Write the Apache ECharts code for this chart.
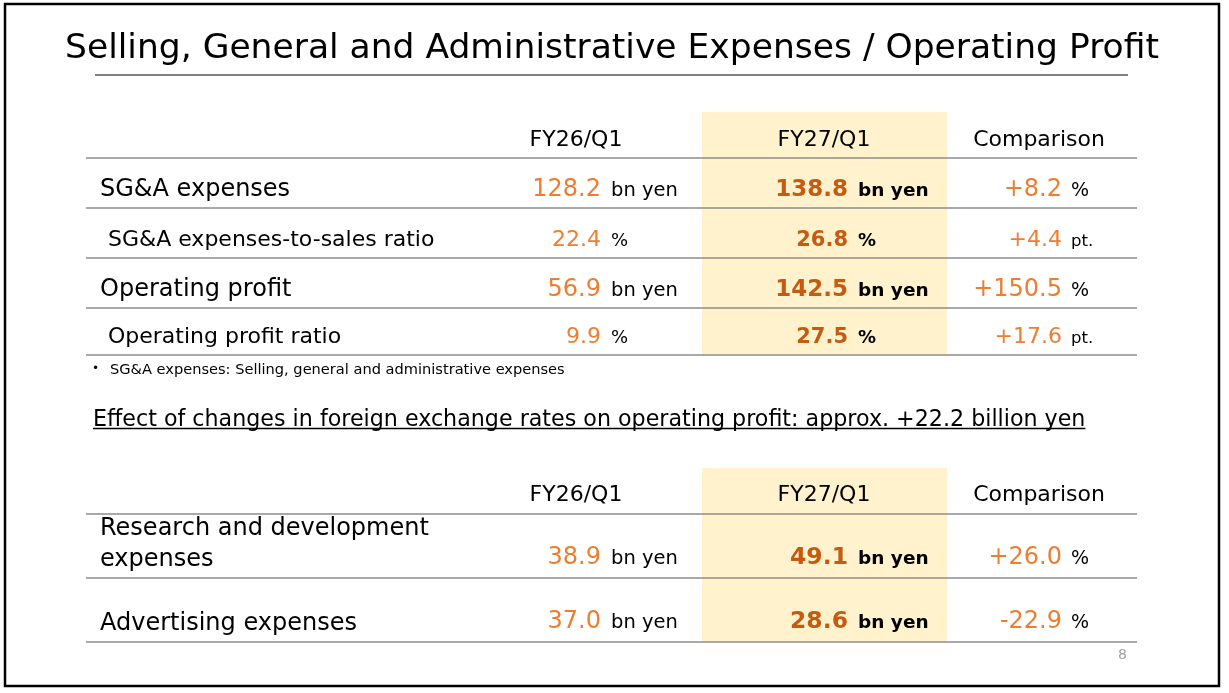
<!DOCTYPE html>
<html>
<head>
<meta charset="utf-8">
<script src="https://cdn.jsdelivr.net/npm/echarts@6/dist/echarts.min.js"></script>
<style>
html, body { margin: 0; padding: 0; background: #fff; }
#main { width: 1229px; height: 693px; }
</style>
</head>
<body>
<div id="main"></div>
<script>
// ---- data ----
var columns = ['FY26/Q1', 'FY27/Q1', 'Comparison'];

// SG&A expenses / operating profit
var opItems = ['SG&A expenses', 'SG&A expenses-to-sales ratio', 'Operating profit', 'Operating profit ratio'];
var opIsSub = [false, true, false, true];
var opFY26 = [128.2, 22.4, 56.9, 9.9];
var opFY27 = [138.8, 26.8, 142.5, 27.5];
var opChange = [8.2, 4.4, 150.5, 17.6];
var opUnits = ['bn yen', '%', 'bn yen', '%'];
var opChangeUnits = ['%', 'pt.', '%', 'pt.'];

// R&D and advertising
var expItems = ['Research and development\nexpenses', 'Advertising expenses'];
var expFY26 = [38.9, 37.0];
var expFY27 = [49.1, 28.6];
var expChange = [26.0, -22.9];
var expUnits = ['bn yen', 'bn yen'];
var expChangeUnits = ['%', '%'];

var titleText = 'Selling, General and Administrative Expenses / Operating Profit';
var footnote = 'SG&A expenses: Selling, general and administrative expenses';
var fxNote = 'Effect of changes in foreign exchange rates on operating profit: approx. +22.2 billion yen';
var pageNo = '8';

// ---- layout / style ----
var FONT = '"DejaVu Sans", sans-serif';
var ORANGE = '#ED7D31';
var DARK_ORANGE = '#C55A11';
var HILITE = '#FFF2CC';
var RULE = '#8C8C8C';
var colHeadX = [576, 824, 1039];
var numRightX = [601, 848, 1062];
var unitGap = [10, 10, 9];
var tableLeft = 86, tableRight = 1137;
var hiLeft = 702, hiRight = 947;
var tables = [
  { top: 112, headBase: 147, headLine: 158, bottoms: [208, 258, 308, 355] },
  { top: 468, headBase: 502, headLine: 514, bottoms: [578, 642] }
];
// font sizes: [main row, sub row]
var SZ = {
  label: [24, 22],
  num: [24, 22], unit: [19.5, 18],
  bold: [23, 21], boldUnit: [18.5, 18],
  chg: [24, 22], chgUnit: [19, 16.5]
};
var K = 0.30; // baseline -> middle offset (fraction of font size)

function fmt(v) { return v.toFixed(1); }
function fmtChange(v) { return (v > 0 ? '+' : '') + v.toFixed(1); }

function txt(api, x, base, s, size, color, align, bold) {
  var p = api.coord([x, base - K * size]);
  return {
    type: 'text', x: p[0], y: p[1],
    style: {
      text: s, fill: color || '#000',
      fontSize: size, fontFamily: FONT, fontWeight: bold ? 'bold' : 'normal',
      align: align || 'left', verticalAlign: 'middle'
    }
  };
}
function hline(api, x1, x2, y, color, w) {
  var a = api.coord([x1, y]), b = api.coord([x2, y]);
  return { type: 'line', shape: { x1: a[0], y1: a[1], x2: b[0], y2: b[1] }, style: { stroke: color, lineWidth: w } };
}
function cell(api, children, col, base, value, unit, sz, usz, numColor, bold) {
  children.push(txt(api, numRightX[col], base, value, sz, numColor, 'right', bold));
  children.push(txt(api, numRightX[col] + unitGap[col], base, unit, usz, '#000', 'left', bold));
}

function renderHeader(params, api) {
  var t = tables[api.value(0)];
  var last = t.bottoms[t.bottoms.length - 1];
  var a = api.coord([hiLeft, t.top]), b = api.coord([hiRight, last]);
  var ch = [{ type: 'rect', shape: { x: a[0], y: a[1], width: b[0] - a[0], height: b[1] - a[1] }, style: { fill: HILITE } }];
  columns.forEach(function (c, j) { ch.push(txt(api, colHeadX[j], t.headBase, c, 22, '#000', 'center')); });
  ch.push(hline(api, tableLeft, tableRight, t.headLine, RULE, 1.5));
  return { type: 'group', children: ch };
}

function renderOpRow(params, api) {
  var i = api.value(0);
  var t = tables[0];
  var base = t.bottoms[i] - 11;
  var k = opIsSub[i] ? 1 : 0;
  var ch = [];
  ch.push(txt(api, k ? 108 : 100, base, opItems[i], SZ.label[k], '#000', 'left'));
  cell(api, ch, 0, base, fmt(opFY26[i]), opUnits[i], SZ.num[k], SZ.unit[k], ORANGE, false);
  cell(api, ch, 1, base, fmt(opFY27[i]), opUnits[i], SZ.bold[k], SZ.boldUnit[k], DARK_ORANGE, true);
  cell(api, ch, 2, base, fmtChange(opChange[i]), opChangeUnits[i], SZ.chg[k], SZ.chgUnit[k], ORANGE, false);
  ch.push(hline(api, tableLeft, tableRight, t.bottoms[i], RULE, 1.5));
  return { type: 'group', children: ch };
}

function renderExpRow(params, api) {
  var i = api.value(0);
  var t = tables[1];
  var base = t.bottoms[i] - 13;
  var labelBase = t.bottoms[i] - 11;
  var ch = [];
  var lines = expItems[i].split('\n');
  lines.forEach(function (s, k) {
    ch.push(txt(api, 100, labelBase - 31 * (lines.length - 1 - k), s, SZ.label[0], '#000', 'left'));
  });
  cell(api, ch, 0, base, fmt(expFY26[i]), expUnits[i], 24, 19.5, ORANGE, false);
  cell(api, ch, 1, base, fmt(expFY27[i]), expUnits[i], 23.5, 18.5, DARK_ORANGE, true);
  cell(api, ch, 2, base, fmtChange(expChange[i]), expChangeUnits[i], 24, 19, ORANGE, false);
  ch.push(hline(api, tableLeft, tableRight, t.bottoms[i], RULE, 1.5));
  return { type: 'group', children: ch };
}

// width of the underlined note
var FX_SIZE = 22.2;
var mctx = document.createElement('canvas').getContext('2d');
mctx.font = FX_SIZE + 'px ' + FONT;
var fxWidth = mctx.measureText(fxNote).width;

var chart = echarts.init(document.getElementById('main'));
chart.setOption({
  animation: false,
  grid: { left: 0, right: 0, top: 0, bottom: 0 },
  xAxis: { type: 'value', min: 0, max: 1229, show: false },
  yAxis: { type: 'value', min: 0, max: 693, inverse: true, show: false },
  graphic: [
    { type: 'rect', shape: { x: 5, y: 4, width: 1214, height: 682 }, style: { fill: 'none', stroke: '#000', lineWidth: 2.5 } },
    { type: 'text', x: 612, y: 59 - K * 34.5, style: { text: titleText, fontSize: 34.5, fontFamily: FONT, fill: '#000', align: 'center', verticalAlign: 'middle' } },
    { type: 'line', shape: { x1: 95, y1: 75, x2: 1128, y2: 75 }, style: { stroke: '#808080', lineWidth: 2 } },
    { type: 'text', x: 92, y: 369, style: { text: '\u2022', fontSize: 12, fontFamily: FONT, fill: '#000', verticalAlign: 'middle' } },
    { type: 'text', x: 110, y: 370, style: { text: footnote, fontSize: 14.6, fontFamily: FONT, fill: '#000', verticalAlign: 'middle' } },
    { type: 'text', x: 93, y: 420, style: { text: fxNote, fontSize: FX_SIZE, fontFamily: FONT, fill: '#000', verticalAlign: 'middle' } },
    { type: 'line', shape: { x1: 93, y1: 428.5, x2: 93 + fxWidth, y2: 428.5 }, style: { stroke: '#000', lineWidth: 1.5 } },
    { type: 'text', x: 1118, y: 655, style: { text: pageNo, fontSize: 14, fontFamily: FONT, fill: '#A0A0A0', verticalAlign: 'middle' } }
  ],
  series: [
    { type: 'custom', name: 'header', z: 1, renderItem: renderHeader, data: tables.map(function (_, i) { return [i]; }) },
    { type: 'custom', name: 'op', z: 2, renderItem: renderOpRow, data: opItems.map(function (_, i) { return [i]; }) },
    { type: 'custom', name: 'exp', z: 2, renderItem: renderExpRow, data: expItems.map(function (_, i) { return [i]; }) }
  ]
});
</script>
</body>
</html>
